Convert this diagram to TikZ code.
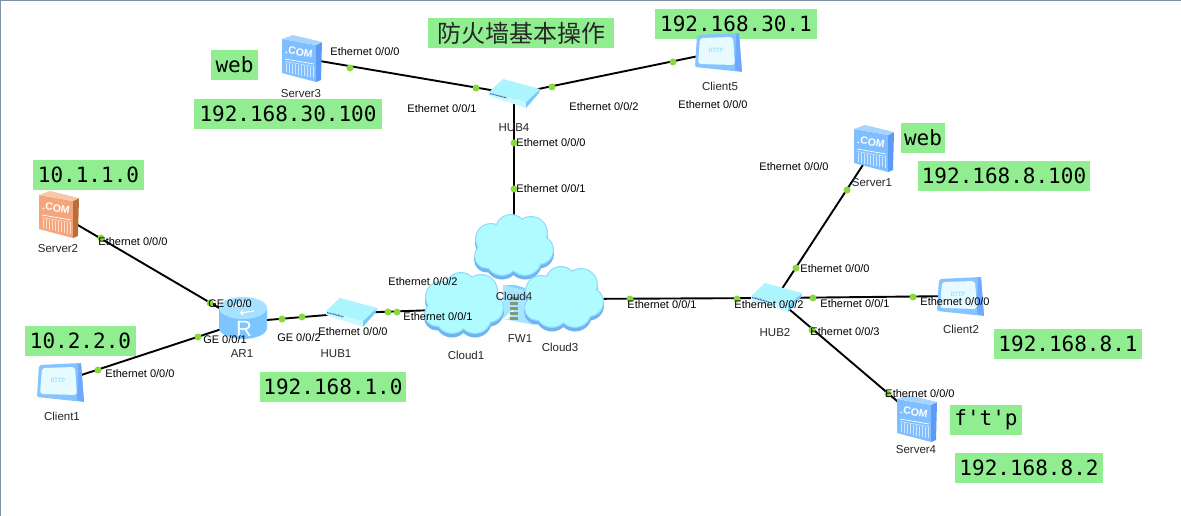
\documentclass[tikz,border=0pt]{standalone}
\usepackage{fontspec}
\setmainfont{Liberation Sans}
\newfontfamily\cjkfont{Noto Sans CJK SC}
\newfontfamily\ipfont{DejaVu Sans Mono}
\definecolor{tag}{HTML}{90EE90}
\definecolor{port}{HTML}{8AD83C}
\definecolor{frameline}{HTML}{7F92A4}
\definecolor{srvFront}{HTML}{7FBFFF}
\definecolor{srvSide}{HTML}{5B9BF5}
\definecolor{srvTop}{HTML}{A9D3FF}
\definecolor{srvBar}{HTML}{CFE8FF}
\definecolor{orgFront}{HTML}{F4A57C}
\definecolor{orgSide}{HTML}{B8703A}
\definecolor{orgTop}{HTML}{F7C8A8}
\definecolor{orgBar}{HTML}{FBE0D0}
\definecolor{cliFrame}{HTML}{86C4FF}
\definecolor{cliSide}{HTML}{6FA8FF}
\definecolor{cliScreen}{HTML}{E6FAFF}
\definecolor{cliText}{HTML}{8FDCFF}
\definecolor{hubTop}{HTML}{ACF5FF}
\definecolor{hubFront}{HTML}{C8F9FF}
\definecolor{hubSide}{HTML}{73CCF5}
\definecolor{hubPorts}{HTML}{3A6FC0}
\definecolor{cloudFill}{HTML}{AFFBFF}
\definecolor{cloudEdge}{HTML}{8FDCFF}
\definecolor{cloudShade}{HTML}{6FB4F0}
\definecolor{rtrTop}{HTML}{A6E2FF}
\definecolor{rtrBody}{HTML}{7CC6FF}
\definecolor{fwFace}{HTML}{A8E6FF}
\definecolor{fwTop}{HTML}{7FD4FF}
\definecolor{fwBrick}{HTML}{7F9A78}

% Server: front face, side face, top face, then the printed front
\newcommand\serverbody[4]{
  \fill[#1] (-20,-19) -- (14,-13) -- (14,24) -- (-20,15) -- cycle;
  \fill[#2] (14,-13) -- (20,-16) -- (19,22) -- (14,24) -- cycle;
  \fill[#3] (-20,-19) -- (-9,-23) -- (20,-16) -- (14,-13) -- cycle;
  \node[font=\bfseries\fontsize{10.5}{10.5}\selectfont,text=white,rotate=-9,inner sep=0] at (-3,-6) {.COM};
  \draw[white,line width=.7] (-17,1) -- (12,6);
  \draw[#4,line width=.6] (-17,3.5) -- (12,8.5);
  \foreach \x in {-16,-13,-10,-7,-4,-1,2,5,8,11}
    \draw[#4,line width=1] (\x,{4.5+(\x+17)*.17}) -- (\x,{14+(\x+17)*.22});
}
% Lobes of a cloud, grown or shrunk by the given amount
\newcommand\cloudlobes[1]{
  (-23,-8) circle[radius=16+#1]
  (-3,-17) circle[radius=16+#1]
  (17,-14) circle[radius=17+#1]
  (25,3) circle[radius=15+#1]
  (-27,9) circle[radius=13+#1]
  (-12,12) circle[radius=17+#1]
  (11,12) circle[radius=17+#1]
  (0,0) circle[radius=22+#1]
}
\tikzset{
  pics/blueserver/.style={code={\serverbody{srvFront}{srvSide}{srvTop}{srvBar}}},
  pics/orangeserver/.style={code={\serverbody{orgFront}{orgSide}{orgTop}{orgBar}}},
  pics/clientbox/.style={code={
    \fill[cliFrame,rounded corners=2] (-21,-17) -- (21,-19) -- (24,20) -- (-23,15) -- cycle;
    \fill[cliSide] (18,-18) -- (21,-19) -- (24,20) -- (17,18) -- cycle;
    \fill[cliScreen,rounded corners=3] (-18,-14) -- (15,-15) -- (17,13) -- (-20,12) -- cycle;
    \node[font=\ttfamily\bfseries\fontsize{7}{7}\selectfont,text=cliText,inner sep=0] at (-2,-2) {HTTP};
  }},
  pics/hubbox/.style={code={
    \fill[hubFront] (-25,-2) -- (12,8) -- (12,14) -- (-25,2) -- cycle;
    \fill[hubSide] (12,8) -- (26,-5) -- (25,-1) -- (12,14) -- cycle;
    \fill[hubTop] (-25,-2) -- (-11,-15) -- (26,-5) -- (12,8) -- cycle;
    \draw[hubPorts,line width=1.3,dash pattern=on 1pt off .6pt] (-24,-.5) -- (-7,4);
  }},
  pics/routerbox/.style={code={
    \fill[rtrBody] (-24,-14) -- (-24,6) arc[start angle=180,end angle=0,x radius=24,y radius=11] -- (24,-14) -- cycle;
    \fill[rtrTop] (0,-14) ellipse[x radius=24,y radius=11];
    \draw[white,line width=1.2,->] (-11,-15) -- (2,-19);
    \draw[white,line width=1.2,->] (11,-11) -- (-3,-9);
    \node[font=\fontsize{22}{22}\selectfont,text=white,inner sep=0] at (1,7) {R};
  }},
  pics/firewallbox/.style={code={
    \fill[fwFace] (-16,-20) -- (16,-12) -- (16,20) -- (-16,14) -- cycle;
    \fill[fwTop] (-16,-20) -- (-4,-20) -- (16,-14) -- (16,-12) -- cycle;
    \fill[white] (-16,14) -- (-6,4) -- (-6,8) -- (-11,14) -- cycle;
    \foreach \y in {-8,-3,2,7,12}
      \fill[fwBrick] (-9,\y) rectangle (-1,\y+3.4);
  }},
  pics/cloudbox/.style={code={
    \fill[cloudShade,shift={(0,3.5)}] \cloudlobes{0};
    \fill[cloudEdge] \cloudlobes{0};
    \fill[cloudFill] \cloudlobes{-1.2};
  }},
  wire/.style={line width=1.9,black},
  portdot/.style={circle,fill=port,draw=none,minimum size=7,inner sep=0},
  anchorpt/.style={inner sep=0,minimum size=0},
  devlabel/.style={font=\fontsize{11.5}{11.5}\selectfont,inner sep=0,text=black!85},
  portlabel/.style={font=\fontsize{11}{11}\selectfont,inner sep=0},
  iptag/.style={fill=tag,font=\ipfont\fontsize{21}{21}\selectfont,inner sep=0,anchor=center,text=black},
}

\begin{document}
\begin{tikzpicture}[x=1pt,y=-1pt]
\useasboundingbox (0,0) rectangle (1181,516);
\fill[white] (0,0) rectangle (1181,516);
\fill[frameline] (0,0) rectangle (1181,1);
\fill[frameline] (0,0) rectangle (1,516);

% Address and role tags
\node[iptag,minimum width=186,minimum height=30,font=\cjkfont\fontsize{24}{24}\selectfont,text=black!85] (title) at (521,33) {防火墙基本操作};
\node[iptag,minimum width=162,minimum height=30] (t1) at (736,24) {192.168.30.1};
\node[iptag,minimum width=47,minimum height=30] (t2) at (234.5,65) {web};
\node[iptag,minimum width=188,minimum height=30] (t3) at (288,114) {192.168.30.100};
\node[iptag,minimum width=111,minimum height=30] (t4) at (88.5,175) {10.1.1.0};
\node[iptag,minimum width=111,minimum height=30] (t5) at (80.5,341) {10.2.2.0};
\node[iptag,minimum width=146,minimum height=30] (t6) at (333,387) {192.168.1.0};
\node[iptag,minimum width=44,minimum height=30] (t7) at (923,138) {web};
\node[iptag,minimum width=172,minimum height=30] (t8) at (1004,176) {192.168.8.100};
\node[iptag,minimum width=148,minimum height=30] (t9) at (1068,344) {192.168.8.1};
\node[iptag,minimum width=72,minimum height=30] (t10) at (986,420) {f't'p};
\node[iptag,minimum width=148,minimum height=30] (t11) at (1029,468) {192.168.8.2};

% Device anchors
\node[anchorpt] (server3) at (302,58) {};
\node[anchorpt] (client5) at (718,52) {};
\node[anchorpt] (hub4) at (514,94) {};
\node[anchorpt] (server1) at (874,148) {};
\node[anchorpt] (server2) at (59,214) {};
\node[anchorpt] (ar1) at (243,322) {};
\node[anchorpt] (client1) at (60,382) {};
\node[anchorpt] (hub1) at (351,313) {};
\node[anchorpt] (cloud1) at (464,309) {};
\node[anchorpt] (cloud3) at (564,299) {};
\node[anchorpt] (cloud4) at (514,247) {};
\node[anchorpt] (fw1) at (519,305) {};
\node[anchorpt] (hub2) at (776,298) {};
\node[anchorpt] (client2) at (960,296) {};
\node[anchorpt] (server4) at (917,418) {};

% Links
\draw[wire] (server3) -- (hub4);
\draw[wire] (client5) -- (hub4);
\draw[wire] (hub4) -- (cloud4);
\draw[wire] (server2) -- (ar1);
\draw[wire] (client1) -- (ar1);
\draw[wire] (ar1) -- (hub1);
\draw[wire] (hub1) -- (cloud1);
\draw[wire] (cloud3) -- (hub2);
\draw[wire] (hub2) -- (server1);
\draw[wire] (hub2) -- (client2);
\draw[wire] (hub2) -- (server4);

% Devices
\pic at (server3) {blueserver};
\pic at (client5) {clientbox};
\pic at (hub4) {hubbox};
\pic at (server1) {blueserver};
\pic at (server2) {orangeserver};
\pic at (ar1) {routerbox};
\pic at (client1) {clientbox};
\pic at (hub1) {hubbox};
\pic at (cloud4) {cloudbox};
\pic at (fw1) {firewallbox};
\pic at (464,305) {cloudbox};
\pic at (cloud3) {cloudbox};
\pic at (hub2) {hubbox};
\pic at (client2) {clientbox};
\pic at (server4) {blueserver};

% Port markers along the links
\foreach \px/\py [count=\i] in {350/68,476/88,552/87,673/62,514/143,514/189,101/238,210/303,98/370,198/337,282/319,302/317,388/312,397/312,630/299,737/299,796/268,847/190,813/298,913/297,812/330,888/394}
  \node[portdot] (p\i) at (\px,\py) {};

% Device names
\node[devlabel] (nServer3) at (301,94) {Server3};
\node[devlabel] (nHub4) at (514,128) {HUB4};
\node[devlabel] (nClient5) at (720,86) {Client5};
\node[devlabel] (nServer1) at (872,183) {Server1};
\node[devlabel] (nServer2) at (58,249) {Server2};
\node[devlabel] (nAr1) at (242,354) {AR1};
\node[devlabel] (nClient1) at (62,416) {Client1};
\node[devlabel] (nHub1) at (336,354) {HUB1};
\node[devlabel] (nCloud1) at (466,355) {Cloud1};
\node[devlabel] (nCloud4) at (514,296) {Cloud4};
\node[devlabel] (nCloud3) at (560,347) {Cloud3};
\node[devlabel] (nFw1) at (520,339) {FW1};
\node[devlabel] (nHub2) at (775,333) {HUB2};
\node[devlabel] (nClient2) at (961,329) {Client2};
\node[devlabel] (nServer4) at (916,450) {Server4};

% Port names
\foreach \px/\py/\kind/\num [count=\i] in {
  365/52/Ethernet/0,442/109/Ethernet/1,604/107/Ethernet/2,713/105/Ethernet/0,
  551/143/Ethernet/0,551/189/Ethernet/1,794/167/Ethernet/0,133/242/Ethernet/0,
  230/304/GE/0,225/340/GE/1,299/338/GE/2,140/374/Ethernet/0,
  353/332/Ethernet/0,423/282/Ethernet/2,438/317/Ethernet/1,662/305/Ethernet/1,
  769/305/Ethernet/2,835/269/Ethernet/0,855/304/Ethernet/1,955/302/Ethernet/0,
  845/332/Ethernet/3,920/394/Ethernet/0}
  \node[portlabel] (l\i) at (\px,\py) {\kind\ 0/0/\num};
\end{tikzpicture}
\end{document}
